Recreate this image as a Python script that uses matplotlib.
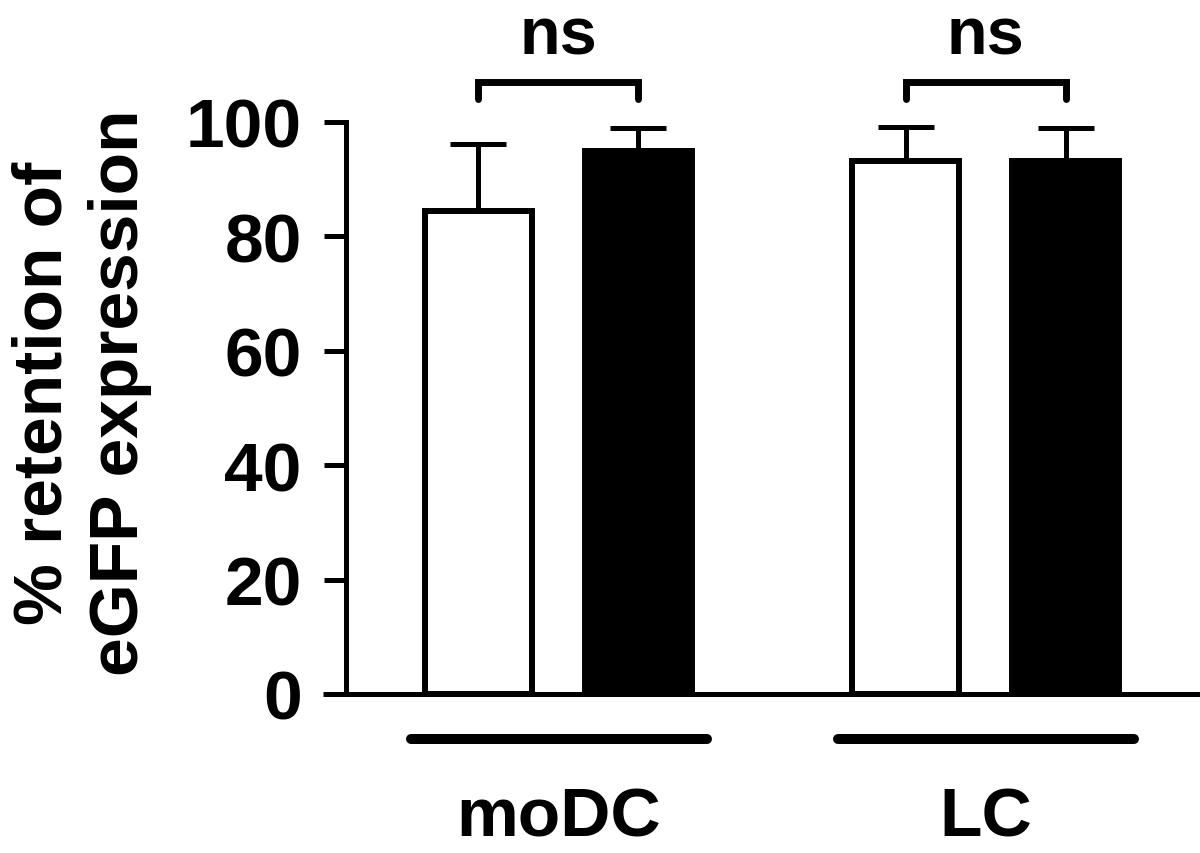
import matplotlib
matplotlib.use("Agg")
import matplotlib.pyplot as plt
from matplotlib.lines import Line2D

plt.rcParams['font.family'] = ['Liberation Sans', 'DejaVu Sans']
plt.rcParams['font.weight'] = 'bold'

# data
groups = ['moDC', 'LC']
positions = [0, 1, 2.67, 3.67]
means = [84.4, 94.9, 93.2, 93.2]
errors = [11.8, 4.1, 5.9, 5.8]
colors = ['white', 'black', 'white', 'black']
yticks = [0, 20, 40, 60, 80, 100]
sig_labels = ['ns', 'ns']

fig = plt.figure(figsize=(12, 8.54), dpi=100)
ax = fig.add_axes([346/1200, 159/854, 854/1200, 572/854])

lw = 3.6
ax.bar(positions, means, width=0.67, color=colors, edgecolor='black',
       linewidth=4.3, zorder=3)
ax.errorbar(positions, means, yerr=[[0]*4, errors], fmt='none', ecolor='black',
            elinewidth=lw, capsize=20.5, capthick=lw, zorder=2)

ax.set_xlim(-0.828, 4.51)
ax.set_ylim(0, 100)
ax.set_yticks(yticks)
ax.set_xticks([])
ax.tick_params(axis='y', length=15.8, width=lw, pad=16, labelsize=50)
for s in ['top', 'right', 'bottom']:
    ax.spines[s].set_visible(False)
ax.spines['left'].set_linewidth(lw)

# x axis line, running a bit left of the y axis
ax.add_line(Line2D([-0.027, 1.0], [0, 0], transform=ax.get_yaxis_transform(),
                   color='black', lw=lw, clip_on=False, solid_capstyle='butt'))

# significance brackets
for i, lab in enumerate(sig_labels):
    x0, x1 = positions[2*i], positions[2*i+1]
    ax.plot([x0, x0, x1, x1], [104, 107, 107, 104], color='black', lw=5,
            clip_on=False, solid_capstyle='round', solid_joinstyle='miter')
    ax.text((x0 + x1) / 2, 112, lab, ha='center', va='baseline', fontsize=48,
            fontweight='bold', clip_on=False)

# group lines and labels
for i, g in enumerate(groups):
    x0, x1 = positions[2*i], positions[2*i+1]
    ax.plot([x0 - 0.42, x1 + 0.43], [-7.9, -7.9], color='black', lw=7.2,
            clip_on=False, solid_capstyle='round')
    ax.text((x0 + x1) / 2, -24.8, g, ha='center', va='baseline', fontsize=50,
            fontweight='bold', clip_on=False)

fig.text(82/1200, 1 - 393/854, '% retention of\neGFP expression', rotation=90,
         ha='center', va='center', fontsize=50, fontweight='bold',
         linespacing=1.25)

fig.savefig('out.png', dpi=100)
